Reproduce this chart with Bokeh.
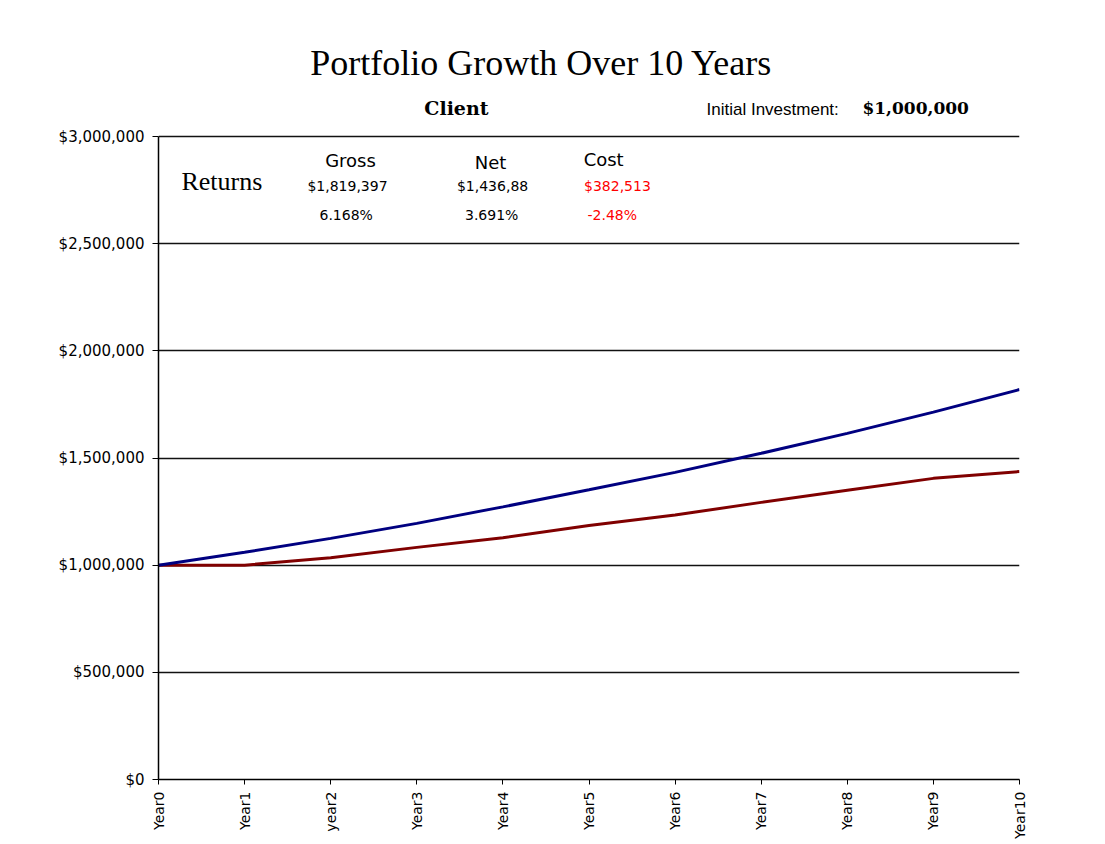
import math
from bokeh.plotting import figure
from bokeh.models import (ColumnDataSource, FixedTicker, NumeralTickFormatter, Label)
from bokeh.embed import file_html
from bokeh.resources import INLINE

# ---- data ----
years = [0, 1, 2, 3, 4, 5, 6, 7, 8, 9, 10]
year_labels = ["Year0", "Year1", "year2", "Year3", "Year4", "Year5",
               "Year6", "Year7", "Year8", "Year9", "Year10"]
gross = [1000000, 1060000, 1125000, 1195000, 1272000, 1352000,
         1433000, 1522000, 1615000, 1714000, 1819397]
net = [1000000, 1000000, 1035000, 1083000, 1128000, 1185000,
       1234000, 1293000, 1350000, 1405000, 1436880]
y_ticks = [0, 500000, 1000000, 1500000, 2000000, 2500000, 3000000]
y_max = 3000000

title_text = "Portfolio Growth Over 10 Years"
client_text = "Client"
initial_label = "Initial Investment:"
initial_value = "$1,000,000"
returns_label = "Returns"
return_headers = ["Gross", "Net", "Cost"]
return_amounts = ["$1,819,397", "$1,436,88", "$382,513"]
return_pcts = ["6.168%", "3.691%", "-2.48%"]
return_colors = ["#000000", "#000000", "#FF0000"]

SANS = "DejaVu Sans"
SERIF = "DejaVu Serif"

# frame extends above the $3M line so the header texts sit inside it
plot_h = 643
frame_h = 771
y_top = y_max * frame_h / plot_h

p = figure(width=1089, height=836, output_backend="svg", toolbar_location=None,
           x_range=(0, 10), y_range=(0, y_top),
           frame_width=861, frame_height=frame_h,
           min_border_left=158, min_border_top=8, min_border_right=70,
           min_border_bottom=57)
p.outline_line_color = None
p.background_fill_color = "white"
p.border_fill_color = "white"

# axes
p.xaxis.ticker = FixedTicker(ticks=years)
p.xaxis.major_label_overrides = {y: l for y, l in zip(years, year_labels)}
p.xaxis.major_label_orientation = math.pi / 2
p.xaxis.major_label_text_font = SANS
p.xaxis.major_label_text_font_size = "14px"
p.xaxis.major_label_text_color = "#000000"
p.xaxis.major_tick_in = 0
p.xaxis.major_tick_out = 5
p.xaxis.minor_tick_line_color = None
p.xaxis.axis_line_color = "black"
p.xaxis.axis_line_width = 1.5
p.xaxis.major_tick_line_color = "black"
p.xaxis.major_label_standoff = 7

p.yaxis.ticker = FixedTicker(ticks=y_ticks)
p.yaxis.bounds = (0, y_max)
p.yaxis.formatter = NumeralTickFormatter(format="$0,0")
p.yaxis.major_label_text_font = SANS
p.yaxis.major_label_text_font_size = "15px"
p.yaxis.major_label_text_color = "#000000"
p.yaxis.major_tick_in = 0
p.yaxis.major_tick_out = 6
p.yaxis.minor_tick_line_color = None
p.yaxis.axis_line_color = "black"
p.yaxis.axis_line_width = 1.5
p.yaxis.major_tick_line_color = "black"
p.yaxis.major_label_standoff = 8

p.xgrid.grid_line_color = None
p.ygrid.grid_line_color = "#111111"
p.ygrid.grid_line_width = 1.4

src = ColumnDataSource(dict(x=years, gross=gross, net=net))
p.line("x", "net", source=src, line_color="#800000", line_width=3)
p.line("x", "gross", source=src, line_color="#000080", line_width=3)

# header texts (above the $3M line)
p.add_layout(Label(x=4.448, y=3345000, text=title_text, text_align="center",
                   text_baseline="middle", text_font="Liberation Serif",
                   text_font_size="36px", text_color="black"))
p.add_layout(Label(x=3.46, y=3131000, text=client_text, text_align="center",
                   text_baseline="middle", text_font=SERIF,
                   text_font_size="19px", text_font_style="bold",
                   text_color="black"))
p.add_layout(Label(x=6.365, y=3126000, text=initial_label, text_align="left",
                   text_baseline="middle", text_font="Liberation Sans",
                   text_font_size="17px", text_color="black"))
p.add_layout(Label(x=8.176, y=3135000, text=initial_value, text_align="left",
                   text_baseline="middle", text_font=SERIF,
                   text_font_size="17px", text_font_style="bold",
                   text_color="black"))

# returns box
p.add_layout(Label(x=0.267, y=2790000, text=returns_label, text_align="left",
                   text_baseline="middle", text_font="Liberation Serif",
                   text_font_size="26px", text_color="black"))
head_x = [2.23, 3.856, 5.17]
amt_x = [2.195, 3.88, 5.33]
pct_x = [2.18, 3.87, 5.27]
head_y = [2888000, 2879000, 2893000]
for i in range(3):
    p.add_layout(Label(x=head_x[i], y=head_y[i], text=return_headers[i],
                       text_align="center", text_baseline="middle",
                       text_font=SANS, text_font_size="18px",
                       text_color="black"))
    p.add_layout(Label(x=amt_x[i], y=2767000, text=return_amounts[i],
                       text_align="center", text_baseline="middle",
                       text_font=SANS, text_font_size="14px",
                       text_color=return_colors[i]))
    p.add_layout(Label(x=pct_x[i], y=2633000, text=return_pcts[i],
                       text_align="center", text_baseline="middle",
                       text_font=SANS, text_font_size="14px",
                       text_color=return_colors[i]))

open("out.html", "w").write(file_html(p, INLINE))
